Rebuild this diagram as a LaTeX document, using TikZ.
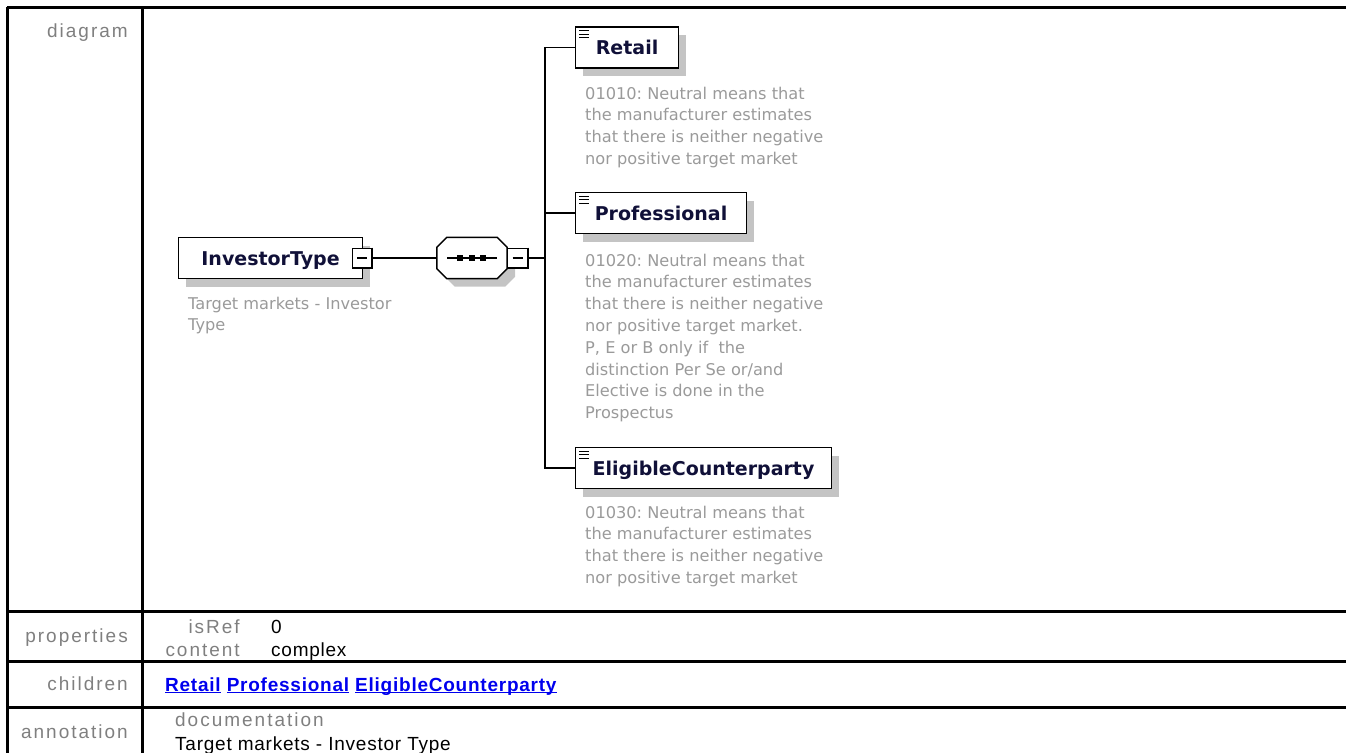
\documentclass[tikz,border=0pt]{standalone}
\usepackage{fontspec}
\setmainfont{DejaVu Sans}
\newfontfamily\lblfont[LetterSpace=10.5]{Liberation Sans}
\newfontfamily\valfont[LetterSpace=4]{Liberation Sans}
\usepackage{xcolor}
\usepackage{tikz}
\usetikzlibrary{positioning}
\frenchspacing
\definecolor{lblgray}{HTML}{7F7F7F}
\definecolor{docgray}{HTML}{9A9A9A}
\definecolor{shadowgray}{HTML}{C4C4C4}
\definecolor{elemtext}{HTML}{101038}
\definecolor{linkblue}{HTML}{0000EE}
\newcommand{\xsdelem}[5]{%
    % #1=name, #2=x (left), #3=y (middle), #4=width, #5=label
    \fill[shadowgray] (#2+8,#3-12.5) rectangle (#2+#4+8,#3+28.5);
    \node[elembox, minimum width=#4, anchor=west] (#1) at (#2,#3) {#5};
}
\newcommand{\docicon}[1]{%
    % #1=element node
    \foreach \dy in {4.5,8,11.5}
        \draw[line width=0.75pt] ([shift={(4,\dy)}]#1.north west) -- ++(10,0);
}
\newcommand{\expander}[3]{%
    % #1=name, #2=x, #3=y
    \node[expbox] (#1) at (#2,#3) {};
    \draw[line width=1.5pt] (#1.north east) -- (#1.south east) -- (#1.south west);
    \draw[line width=0.9pt] (#1.center) ++(-5,0) -- ++(10,0);
}
\newcommand{\octpath}[1]{%
    % #1=node whose box is cut at the corners
    ([shift={(10,0)}]#1.north west) -- ([shift={(-10,0)}]#1.north east)
    -- ([shift={(0,10)}]#1.north east) -- ([shift={(0,-10)}]#1.south east)
    -- ([shift={(-10,0)}]#1.south east) -- ([shift={(10,0)}]#1.south west)
    -- ([shift={(0,-10)}]#1.south west) -- ([shift={(0,10)}]#1.north west) -- cycle}
\newcommand{\xlink}[1]{\underline{\smash{#1}}}

\begin{document}
\begin{tikzpicture}[x=1pt, y=-1pt, scale=0.75, transform shape,
    elembox/.style={rectangle, draw=black, line width=1.1pt, fill=white, minimum height=41, inner sep=0pt, text=elemtext, text height=14, text depth=0, font=\bfseries\fontsize{19}{23}\selectfont},
    expbox/.style={rectangle, draw=black, line width=0.75pt, fill=white, minimum size=20, inner sep=0pt},
    seqbox/.style={rectangle, minimum width=70, minimum height=41, inner sep=0pt},
    docnote/.style={anchor=north west, align=left, inner sep=0pt, text=docgray, font=\fontsize{16.2}{21.8}\selectfont},
    tbllabel/.style={anchor=base east, inner sep=0pt, text=lblgray, font=\lblfont\fontsize{19}{22}\selectfont},
    tblvalue/.style={anchor=base west, inner sep=0pt, font=\valfont\fontsize{19}{22}\selectfont},
    tblline/.style={line width=2.25pt},
    conn/.style={line width=1.1pt}
]
    \useasboundingbox (0,0) rectangle (1346,753);

    % table frame
    \draw[tblline] (7,7) -- (1346,7);
    \draw[tblline] (7,7) -- (7,753);
    \draw[tblline] (142,7) -- (142,753);
    \foreach \ry in {611,661,707}
        \draw[tblline] (7,\ry) -- (1346,\ry);

    \node[tbllabel] (lbldiag) at (128,37.5) {diagram};
    \node[tbllabel] (lblprop) at (128,642) {properties};
    \node[tbllabel] (lblkids) at (128,690) {children};
    \node[tbllabel] (lblanno) at (128,738) {annotation};

    \node[tbllabel] (isref) at (240,633) {isRef};
    \node[tbllabel] (content) at (240,656) {content};
    \node[tblvalue] (isrefval) at (271,633) {0};
    \node[tblvalue] (contentval) at (271,656) {complex};
    \node[tblvalue, text=linkblue, font=\valfont\bfseries\fontsize{19}{22}\selectfont] (kids) at (165,691)
        {\xlink{Retail} \xlink{Professional} \xlink{EligibleCounterparty}};
    \node[tbllabel, anchor=base west] (docu) at (175,726) {documentation};
    \node[tblvalue] (docuval) at (175,750) {Target markets - Investor Type};

    % diagram
    \xsdelem{itype}{178}{258}{184}{InvestorType\hspace{10pt}}
    \expander{itexp}{362}{258}
    \node[docnote] (itdoc) at (188,296.5) {Target markets - Investor\\Type};

    \node[seqbox] (seqshadow) at (480,266) {};
    \node[seqbox] (seq) at (472,258) {};
    \fill[shadowgray] \octpath{seqshadow};
    \filldraw[fill=white, draw=black, line width=1.1pt] \octpath{seq};
    \draw[line width=0.9pt] (seq.center) ++(-25,0) -- ++(50,0);
    \foreach \dx in {-12,0,11}
        \fill (472+\dx-2.8,255.2) rectangle (472+\dx+2.8,260.8);
    \expander{seqexp}{517.5}{258}

    \draw[conn] (itexp.east) -- (seq.west);
    \coordinate (bus) at (545,258);
    \draw[conn] (seqexp.east) -- (bus);

    \xsdelem{retail}{575}{47.5}{103}{Retail\hspace{7pt}}
    \xsdelem{prof}{575}{213}{171}{Professional}
    \xsdelem{elig}{575}{468}{256}{EligibleCounterparty}
    \docicon{retail}
    \docicon{prof}
    \docicon{elig}

    \draw[conn] (bus) |- (retail.west);
    \draw[conn] (bus) |- (prof.west);
    \draw[conn] (bus) |- (elig.west);

    \node[docnote] (rtdoc) at (585,86.5) {01010: Neutral means that\\the manufacturer estimates\\that there is neither negative\\nor positive target market};
    \node[docnote] (pfdoc) at (585,253.5) {01020: Neutral means that\\the manufacturer estimates\\that there is neither negative\\nor positive target market.\\P, E or B only if\ \ the\\distinction Per Se or/and\\Elective is done in the\\Prospectus};
    \node[docnote] (ecdoc) at (585,505.5) {01030: Neutral means that\\the manufacturer estimates\\that there is neither negative\\nor positive target market};
\end{tikzpicture}
\end{document}
